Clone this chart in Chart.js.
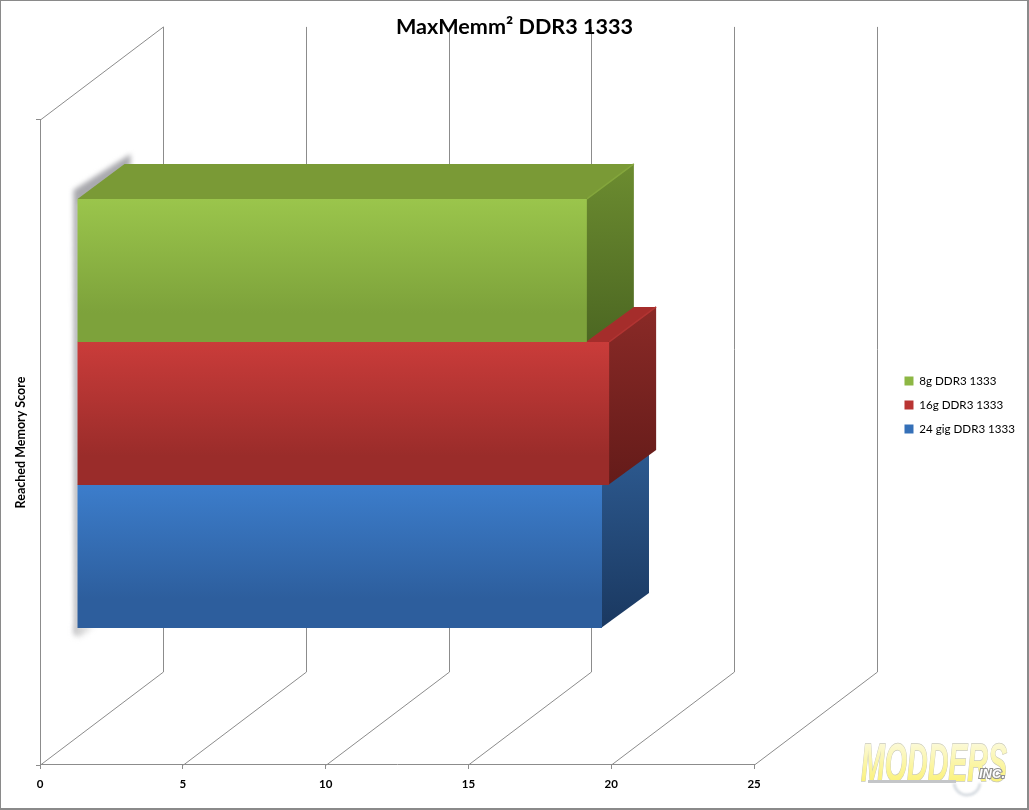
<!DOCTYPE html>
<html>
<head>
<meta charset="utf-8">
<title>MaxMemm² DDR3 1333</title>
<script src="https://cdn.jsdelivr.net/npm/chart.js@4"></script>
<style>
  html, body { margin: 0; padding: 0; background: #fff; overflow: hidden; }
  canvas { display: block; }
</style>
</head>
<body>
<canvas id="myChart" width="1029" height="810"></canvas>
<script>
const categories = [""];
const seriesNames = ["8g DDR3 1333", "16g DDR3 1333", "24 gig DDR3 1333"];
const scores = [17.85, 18.63, 18.38];
const frontTop = ["#a2ce50", "#d6403e", "#4085d7"];
const frontBottom = ["#7da23b", "#9a2c2a", "#2d5e9d"];
const topFace = ["#7a9a36", "#a52d2b", "#2b568c"];
const sideTop = ["#6c8c30", "#8a2a27", "#2d5a90"];
const sideBottom = ["#4c6722", "#641b19", "#1a3860"];
const edgeLight = ["#84a63c", "#b23432", "#3566a0"];
const legendColor = ["#8db744", "#b93533", "#3570b8"];

// how far the bars sit behind the front plane, and the 3D depth of things
const BAR_SHIFT = { x: 37, y: -29 };
const BAR_DEPTH = { x: 47, y: -35 };
const WALL_DEPTH = { x: 123, y: -93 };
const LINE_COLOR = "#8c8c8c";

function gradientFor(context) {
  const chart = context.chart;
  const i = context.datasetIndex;
  const area = chart.chartArea;
  if (!area) return legendColor[i];
  const slot = (area.height * 0.665) / 3;
  const top = area.top + (area.height - slot * 3) / 2 + i * slot + BAR_SHIFT.y;
  const g = chart.ctx.createLinearGradient(0, top, 0, top + slot);
  g.addColorStop(0, frontTop[i]);
  g.addColorStop(1, frontBottom[i]);
  return g;
}

function poly(ctx, pts, fill) {
  ctx.beginPath();
  pts.forEach((p, i) => (i ? ctx.lineTo(p[0], p[1]) : ctx.moveTo(p[0], p[1])));
  ctx.closePath();
  ctx.fillStyle = fill;
  ctx.fill();
}

const walls = {
  id: "walls",
  // back wall lines, the title has to stay on top of them
  beforeDraw(chart) {
    const { ctx, scales, chartArea } = chart;
    const x = scales.x;
    ctx.save();
    ctx.fillStyle = "#fff";
    ctx.fillRect(0, 0, chart.width, chart.height);
    ctx.strokeStyle = LINE_COLOR;
    ctx.lineWidth = 1;
    x.ticks.forEach((t) => {
      const px = Math.round(x.getPixelForValue(t.value)) + 0.5;
      ctx.beginPath();
      ctx.moveTo(px, chartArea.bottom);
      ctx.lineTo(px + WALL_DEPTH.x, chartArea.bottom + WALL_DEPTH.y);
      ctx.lineTo(px + WALL_DEPTH.x, chartArea.top + WALL_DEPTH.y);
      ctx.stroke();
    });
    const left = Math.round(chartArea.left) + 0.5;
    ctx.beginPath();
    ctx.moveTo(left, chartArea.top);
    ctx.lineTo(left + WALL_DEPTH.x, chartArea.top + WALL_DEPTH.y);
    ctx.stroke();
    ctx.restore();
  },
  // soft shadow down the left edge of the bars
  beforeDatasetsDraw(chart) {
    const { ctx } = chart;
    const first = chart.getDatasetMeta(0).data[0];
    const last = chart.getDatasetMeta(2).data[0];
    const l = first.base + BAR_SHIFT.x;
    const t = first.y - first.height / 2 + BAR_SHIFT.y;
    const b = last.y + last.height / 2 + BAR_SHIFT.y;
    ctx.save();
    ctx.filter = "blur(2.5px)";
    poly(ctx, [
      [l - 3, b + 6], [l - 4, t - 9],
      [l + BAR_DEPTH.x + 6, t + BAR_DEPTH.y - 10],
      [l + BAR_DEPTH.x + 6, t + BAR_DEPTH.y + 2],
      [l + 2, t + 4], [l + 1, b + 6],
    ], "#a9a9ae");
    ctx.filter = "blur(3px)";
    poly(ctx, [[l - 2, b - 2], [l + 16, b - 2], [l + 2, b + 8], [l - 2, b + 8]], "#cfcfcf");
    ctx.restore();
  },
  // chart.js draws the last dataset first, so faces stack the right way
  beforeDatasetDraw(chart, args) {
    const { ctx } = chart;
    const i = args.index;
    const bar = args.meta.data[0];
    const l = bar.base;
    const r = bar.x;
    const t = bar.y - bar.height / 2;
    const b = bar.y + bar.height / 2;
    const dx = BAR_DEPTH.x;
    const dy = BAR_DEPTH.y;
    ctx.save();
    ctx.translate(BAR_SHIFT.x, BAR_SHIFT.y);
    poly(ctx, [[l, t], [l + dx, t + dy], [r + dx, t + dy], [r, t]], topFace[i]);
    const g = ctx.createLinearGradient(0, t + dy, 0, b);
    g.addColorStop(0, sideTop[i]);
    g.addColorStop(1, sideBottom[i]);
    poly(ctx, [[r - 1, t], [r + dx, t + dy], [r + dx, b + dy], [r - 1, b]], g);
    // bevel along the shared edge of top and side
    ctx.strokeStyle = edgeLight[i];
    ctx.lineWidth = 1.5;
    ctx.beginPath();
    ctx.moveTo(r, t);
    ctx.lineTo(r + dx, t + dy);
    ctx.stroke();
  },
  afterDatasetDraw(chart) {
    chart.ctx.restore();
  },
  afterDraw(chart) {
    const { ctx, width, height } = chart;
    ctx.save();
    // logo bottom right
    const g = ctx.createLinearGradient(0, 743, 0, 782);
    g.addColorStop(0, "#fbf9d8");
    g.addColorStop(1, "#fbf27a");
    ctx.font = 'italic bold 54px "Liberation Sans"';
    ctx.textAlign = "left";
    ctx.textBaseline = "alphabetic";
    ctx.fillStyle = g;
    ctx.strokeStyle = "#c9c9b8";
    ctx.lineWidth = 1.5;
    ctx.strokeText("MODDERS", 861, 781, 146);
    ctx.fillText("MODDERS", 861, 781, 146);
    ctx.font = 'italic bold 13px "Liberation Sans"';
    ctx.strokeStyle = "#8f8f8f";
    ctx.lineWidth = 2;
    ctx.strokeText("INC.", 979, 778);
    ctx.fillStyle = "#fff";
    ctx.fillText("INC.", 979, 778);
    ctx.fillStyle = "#c4c6c8";
    ctx.fillRect(868, 780, 88, 3);
    ctx.filter = "blur(1px)";
    ctx.beginPath();
    ctx.arc(967, 782, 13, 0.1, Math.PI - 0.1);
    ctx.lineWidth = 3;
    ctx.strokeStyle = "#d8dde2";
    ctx.stroke();
    ctx.filter = "none";
    // picture frame
    ctx.strokeStyle = "#8a8a8a";
    ctx.lineWidth = 2;
    ctx.strokeRect(0, 0, width - 1, height - 1);
    ctx.restore();
  },
};

const datasets = seriesNames.map((name, i) => ({
  label: name,
  data: [scores[i]],
  backgroundColor: gradientFor,
  borderWidth: 0,
  clip: false,
  barPercentage: 1,
  categoryPercentage: 0.665,
}));

new Chart(document.getElementById("myChart"), {
  type: "bar",
  data: { labels: categories, datasets },
  plugins: [walls],
  options: {
    indexAxis: "y",
    responsive: false,
    animation: false,
    layout: { padding: { left: 4, right: 4 } },
    scales: {
      x: {
        min: 0,
        max: 25,
        ticks: {
          stepSize: 5,
          color: "#000",
          padding: 8,
          maxRotation: 0,
          font: { family: "Lato", weight: "bold", size: 11.5 },
        },
        grid: { drawOnChartArea: false, color: LINE_COLOR, tickLength: 4 },
        border: { color: LINE_COLOR },
        afterFit: (s) => { s.height = 45; },
      },
      y: {
        ticks: { display: true, padding: 0 },
        grid: { drawOnChartArea: false, color: LINE_COLOR, tickLength: 4 },
        border: { color: LINE_COLOR },
        title: {
          display: true,
          text: "Reached Memory Score",
          color: "#000",
          padding: { top: 9, bottom: 0 },
          font: { family: "Lato", weight: "bold", size: 12.5 },
        },
        afterFit: (s) => { s.width = 36; },
      },
      gap: {
        axis: "y",
        position: "right",
        grid: { display: false },
        border: { display: false },
        ticks: { display: false },
        afterFit: (s) => { s.width = 138; },
      },
    },
    plugins: {
      title: {
        display: true,
        text: "MaxMemm² DDR3 1333",
        color: "#000",
        padding: { top: 14, bottom: 80 },
        font: { family: "Lato", weight: "bold", size: 21.6 },
      },
      legend: {
        position: "right",
        labels: {
          boxWidth: 9,
          boxHeight: 9,
          padding: 12.4,
          color: "#000",
          font: { family: "Lato", size: 11.6 },
          generateLabels(chart) {
            const items = Chart.defaults.plugins.legend.labels.generateLabels(chart);
            items.forEach((item, i) => {
              item.fillStyle = legendColor[i];
              item.lineWidth = 0;
            });
            return items;
          },
        },
      },
      tooltip: { enabled: false },
    },
  },
});
</script>
</body>
</html>
